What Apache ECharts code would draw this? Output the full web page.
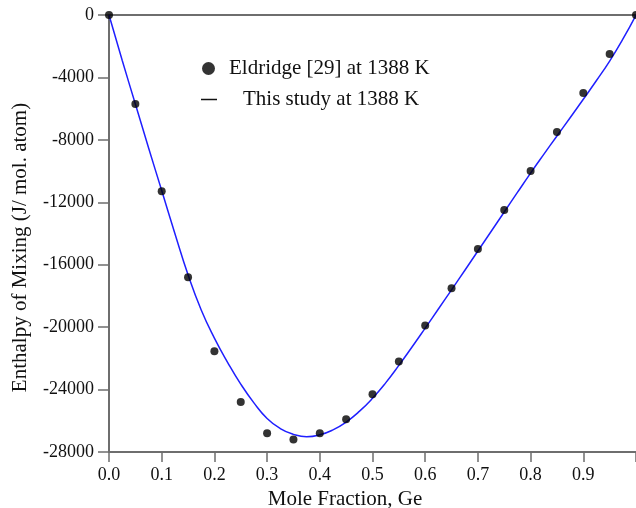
<!DOCTYPE html>
<html>
<head>
<meta charset="utf-8">
<script src="https://cdn.jsdelivr.net/npm/echarts@6/dist/echarts.min.js"></script>
<style>html,body{margin:0;padding:0;background:#fff;overflow:hidden}#c{width:636px;height:508px}</style>
</head>
<body>
<div id="c"></div>
<script>
// Experimental points (Eldridge [29] at 1388 K)
const expX = [0, 0.05, 0.1, 0.15, 0.2, 0.25, 0.3, 0.35, 0.4, 0.45, 0.5, 0.55, 0.6, 0.65, 0.7, 0.75, 0.8, 0.85, 0.9, 0.95, 1.0];
const expY = [0, -5700, -11300, -16800, -21550, -24800, -26800, -27200, -26800, -25900, -24300, -22200, -19900, -17500, -15000, -12500, -10000, -7500, -5000, -2500, 0];
// Calculated curve (This study at 1388 K)
const calcX = [0, 0.025, 0.05, 0.075, 0.1, 0.125, 0.15, 0.175, 0.2, 0.225, 0.25, 0.275, 0.3, 0.325, 0.35, 0.375, 0.4, 0.425, 0.45, 0.475, 0.5, 0.525, 0.55, 0.575, 0.6, 0.625, 0.65, 0.675, 0.7, 0.725, 0.75, 0.775, 0.8, 0.825, 0.85, 0.875, 0.9, 0.925, 0.95, 0.975, 1.0];
const calcY = [0, -2900, -5700, -8500, -11250, -14000, -16650, -18900, -20700, -22250, -23650, -24850, -25850, -26500, -26870, -27020, -26900, -26580, -26080, -25400, -24560, -23570, -22450, -21270, -20060, -18840, -17610, -16370, -15120, -13870, -12620, -11370, -10130, -8930, -7750, -6580, -5400, -4200, -2950, -1550, 0];
const yTicks = [-28000, -24000, -20000, -16000, -12000, -8000, -4000, 0];
const xTicks = [0, 0.1, 0.2, 0.3, 0.4, 0.5, 0.6, 0.7, 0.8, 0.9];

const serif = '"Liberation Serif", "DejaVu Serif", serif';
const axisCol = '#6e6e6e';
const chart = echarts.init(document.getElementById('c'), null, {renderer: 'canvas'});
chart.setOption({
  animation: false,
  backgroundColor: '#fff',
  grid: {left: 109, right: 0, top: 15, bottom: 56, containLabel: false, outerBoundsMode: 'none'},
  legend: [
    {data: [{name: 'Eldridge [29] at 1388 K', icon: 'circle'}], left: 197, top: 53, itemWidth: 13, itemHeight: 13,
     textStyle: {fontFamily: serif, fontSize: 21, color: '#111', padding: [0, 0, 0, 9]}, selectedMode: false},
    {data: [{name: 'This study at 1388 K', icon: 'rect', itemStyle: {color: '#111'}}], left: 196, top: 84, itemWidth: 16, itemHeight: 1.5,
     textStyle: {fontFamily: serif, fontSize: 21, color: '#111', padding: [0, 0, 0, 21]}, selectedMode: false}
  ],
  xAxis: [{
    type: 'value', min: 0, max: 1, interval: 0.1, position: 'bottom',
    name: 'Mole Fraction, Ge', nameLocation: 'middle', nameGap: 34,
    nameTextStyle: {fontFamily: serif, fontSize: 21, color: '#111', padding: [0, 55, 0, 0]},
    axisLine: {show: true, onZero: false, lineStyle: {color: axisCol, width: 2}},
    axisTick: {show: true, length: 10, lineStyle: {color: axisCol, width: 1.5}},
    axisLabel: {fontFamily: serif, fontSize: 18, color: '#111', margin: 14,
      formatter: v => (xTicks.some(t => Math.abs(t - v) < 1e-9) ? v.toFixed(1) : '')},
    splitLine: {show: false}
  }, {
    type: 'value', min: 0, max: 1, position: 'top',
    axisLine: {show: true, onZero: false, lineStyle: {color: axisCol, width: 2}},
    axisTick: {show: false}, axisLabel: {show: false}, splitLine: {show: false}
  }],
  yAxis: {
    type: 'value', min: -28000, max: 0, interval: 4000,
    name: 'Enthalpy of Mixing (J/ mol. atom)', nameLocation: 'middle', nameGap: 78,
    nameTextStyle: {fontFamily: serif, fontSize: 21, color: '#111', padding: [0, 28, 0, 0]},
    axisLine: {show: true, onZero: false, lineStyle: {color: axisCol, width: 2}},
    axisTick: {show: true, length: 11, lineStyle: {color: axisCol, width: 1.5}},
    axisLabel: {fontFamily: serif, fontSize: 18, color: '#111', margin: 15,
      formatter: v => (yTicks.includes(v) ? String(v) : '')},
    splitLine: {show: false}
  },
  series: [{
    name: 'This study at 1388 K', type: 'line', smooth: 0.5, showSymbol: false, symbol: 'none',
    data: calcX.map((x, i) => [x, calcY[i]]),
    lineStyle: {color: '#1f1fff', width: 1.5}, itemStyle: {color: '#111'}, z: 2
  }, {
    name: 'Eldridge [29] at 1388 K', type: 'scatter', symbol: 'circle', symbolSize: 8,
    data: expX.map((x, i) => [x, expY[i]]),
    itemStyle: {color: '#000'}, clip: false, z: 3
  }]
});
</script>
</body>
</html>
